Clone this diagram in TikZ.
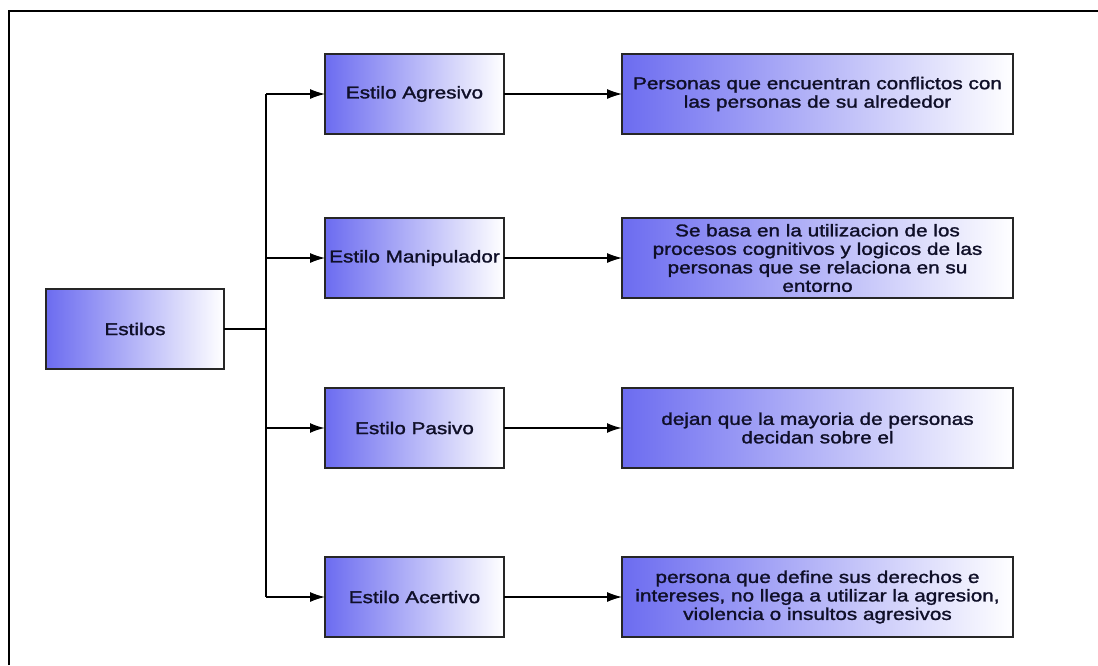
\documentclass[tikz,border=0pt]{standalone}
\usepackage{fontspec}
\setmainfont[FakeStretch=1.22,FakeBold=1.6]{Liberation Sans}
\usetikzlibrary{arrows.meta}
\definecolor{boxblue}{RGB}{108,108,240}
\definecolor{txt}{RGB}{15,15,40}
\tikzset{
  gbox/.style={draw=black!85, line width=1.4pt, rectangle, inner sep=0pt, outer sep=0pt,
    left color=boxblue, right color=white, text=txt, align=center,
    minimum height=80pt, font=\fontsize{17}{18.5}\selectfont},
  sbox/.style={gbox, minimum width=179pt},
  dbox/.style={gbox, minimum width=391pt},
  conn/.style={draw=black, line width=1.2pt},
  arr/.style={conn, -{Latex[length=15pt,width=10pt]}}
}
\begin{document}
\begin{tikzpicture}[x=1pt,y=-1pt]
\useasboundingbox (0,0) rectangle (1098,665);
\fill[white] (0,0) rectangle (1098,665);
\draw[line width=2pt] (9,665) -- (9,11) -- (1098,11);

\node[gbox, minimum width=178pt] (est) at (135,329) {Estilos};

\node[sbox] (s1) at (414.5,94) {Estilo Agresivo};
\node[sbox] (s2) at (414.5,258) {Estilo Manipulador};
\node[sbox] (s3) at (414.5,428) {Estilo Pasivo};
\node[sbox] (s4) at (414.5,597) {Estilo Acertivo};

\node[dbox] (d1) at (817.5,94) {Personas que encuentran conflictos con\\las personas de su alrededor};
\node[dbox] (d2) at (817.5,258) {Se basa en la utilizacion de los\\procesos cognitivos y logicos de las\\personas que se relaciona en su\\entorno};
\node[dbox] (d3) at (817.5,428) {dejan que la mayoria de personas\\decidan sobre el};
\node[dbox] (d4) at (817.5,597) {persona que define sus derechos e\\intereses, no llega a utilizar la agresion,\\violencia o insultos agresivos};

\coordinate (t1) at (266,94);
\coordinate (t2) at (266,258);
\coordinate (t3) at (266,428);
\coordinate (t4) at (266,597);
\coordinate (tm) at (266,329);

\draw[conn, line width=1.5pt] (t1) -- (t4);
\draw[conn, line width=2.5pt] (est.east) -- (tm);

\draw[arr] (t1) -- (s1.west);
\draw[arr] (t2) -- (s2.west);
\draw[arr, line width=2pt] (t3) -- (s3.west);
\draw[arr] (t4) -- (s4.west);

\draw[arr] (s1.east) -- (d1.west);
\draw[arr] (s2.east) -- (d2.west);
\draw[arr, line width=2pt] (s3.east) -- (d3.west);
\draw[arr] (s4.east) -- (d4.west);
\end{tikzpicture}
\end{document}
